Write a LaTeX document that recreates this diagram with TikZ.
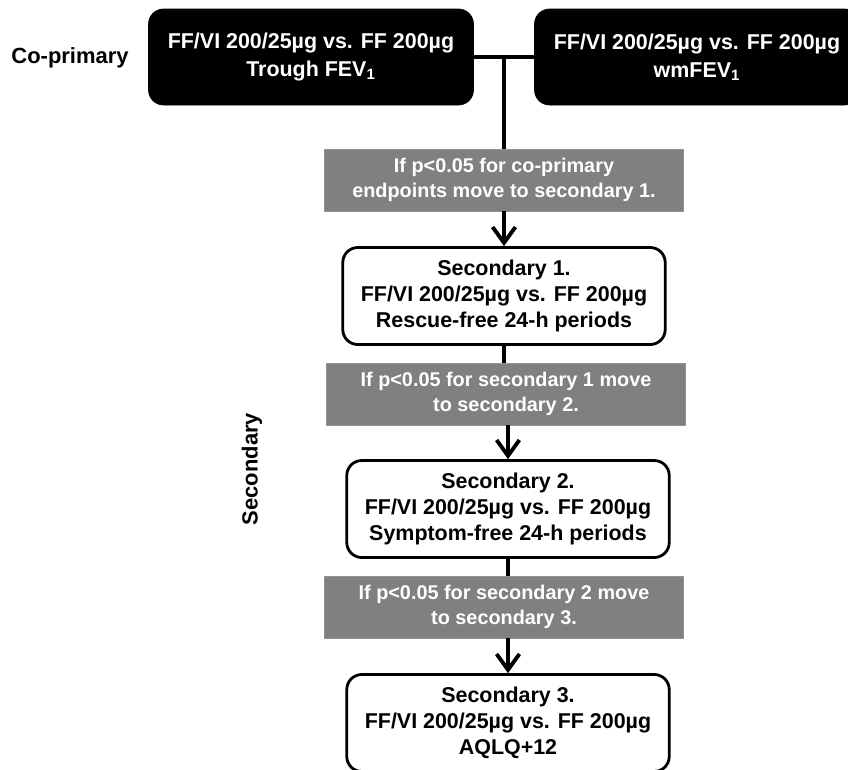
\documentclass[tikz,border=0pt]{standalone}
\usepackage{fontspec}
\setmainfont{Liberation Sans}
\usetikzlibrary{arrows.meta,positioning}
\definecolor{gategray}{HTML}{808080}

\tikzset{
  boxfont/.style={font=\bfseries\fontsize{12.2}{14.8}\selectfont},
  blackbox/.style={fill=black, draw=black, text=white, rounded corners=0.3cm,
    minimum width=6.5cm, minimum height=1.92cm, align=center,
    font=\bfseries\fontsize{12.2}{16}\selectfont},
  endbox/.style={boxfont, fill=white, draw=black, line width=1.6pt, rounded corners=0.3cm,
    minimum width=6.45cm, minimum height=1.94cm, align=center},
  gatebox/.style={fill=gategray, draw=gategray!85, text=white,
    minimum width=7.18cm, minimum height=1.24cm, align=center,
    font=\bfseries\fontsize{11.3}{14}\selectfont},
  flow/.style={line width=2.2pt},
  flowarrow/.style={flow, -{Straight Barb[length=9pt,width=13pt,line width=2.2pt]}},
  sidelabel/.style={font=\bfseries\fontsize{12.5}{15}\selectfont}
}

\begin{document}
\begin{tikzpicture}[x=0.02cm,y=-0.02cm]
\useasboundingbox (0,0) rectangle (848,769);

% labels on the left
\node[sidelabel] (coprim) at (70,58) {Co-primary};
\node[sidelabel, rotate=90] (second) at (252,469) {Secondary};

% co-primary endpoints
\node[blackbox] (trough) at (311,57) {FF/VI 200/25µg vs. FF 200µg\\Trough FEV\textsubscript{1}};
\node[blackbox] (wmfev) at (697,57) {FF/VI 200/25µg vs. FF 200µg\\wmFEV\textsubscript{1}};
\coordinate (join) at (504,59);

% secondary endpoints
\node[gatebox] (gate1) at (504,180) {If p<0.05 for co-primary\\endpoints move to secondary 1.};
\node[endbox]  (sec1)  at (504,296) {Secondary 1.\\FF/VI 200/25µg vs. FF 200µg\\Rescue-free 24-h periods};
\node[gatebox] (gate2) at (506,394) {If p<0.05 for secondary 1 move\\to secondary 2.};
\node[endbox]  (sec2)  at (508,509) {Secondary 2.\\FF/VI 200/25µg vs. FF 200µg\\Symptom-free 24-h periods};
\node[gatebox] (gate3) at (504,607) {If p<0.05 for secondary 2 move\\to secondary 3.};
\node[endbox]  (sec3)  at (508,723) {Secondary 3.\\FF/VI 200/25µg vs. FF 200µg\\AQLQ+12};

% connectors
\draw[flow] (trough.east) -- (wmfev.west);
\draw[flow] (join) -- (join |- gate1.north);
\draw[flowarrow] (join |- gate1.south) -- (join |- sec1.north);
\draw[flow] (sec1.south) -- (sec1.south |- gate2.north);
\draw[flowarrow] (sec2.north |- gate2.south) -- (sec2.north);
\draw[flow] (sec2.south) -- (sec2.south |- gate3.north);
\draw[flowarrow] (sec3.north |- gate3.south) -- (sec3.north);
\end{tikzpicture}
\end{document}
